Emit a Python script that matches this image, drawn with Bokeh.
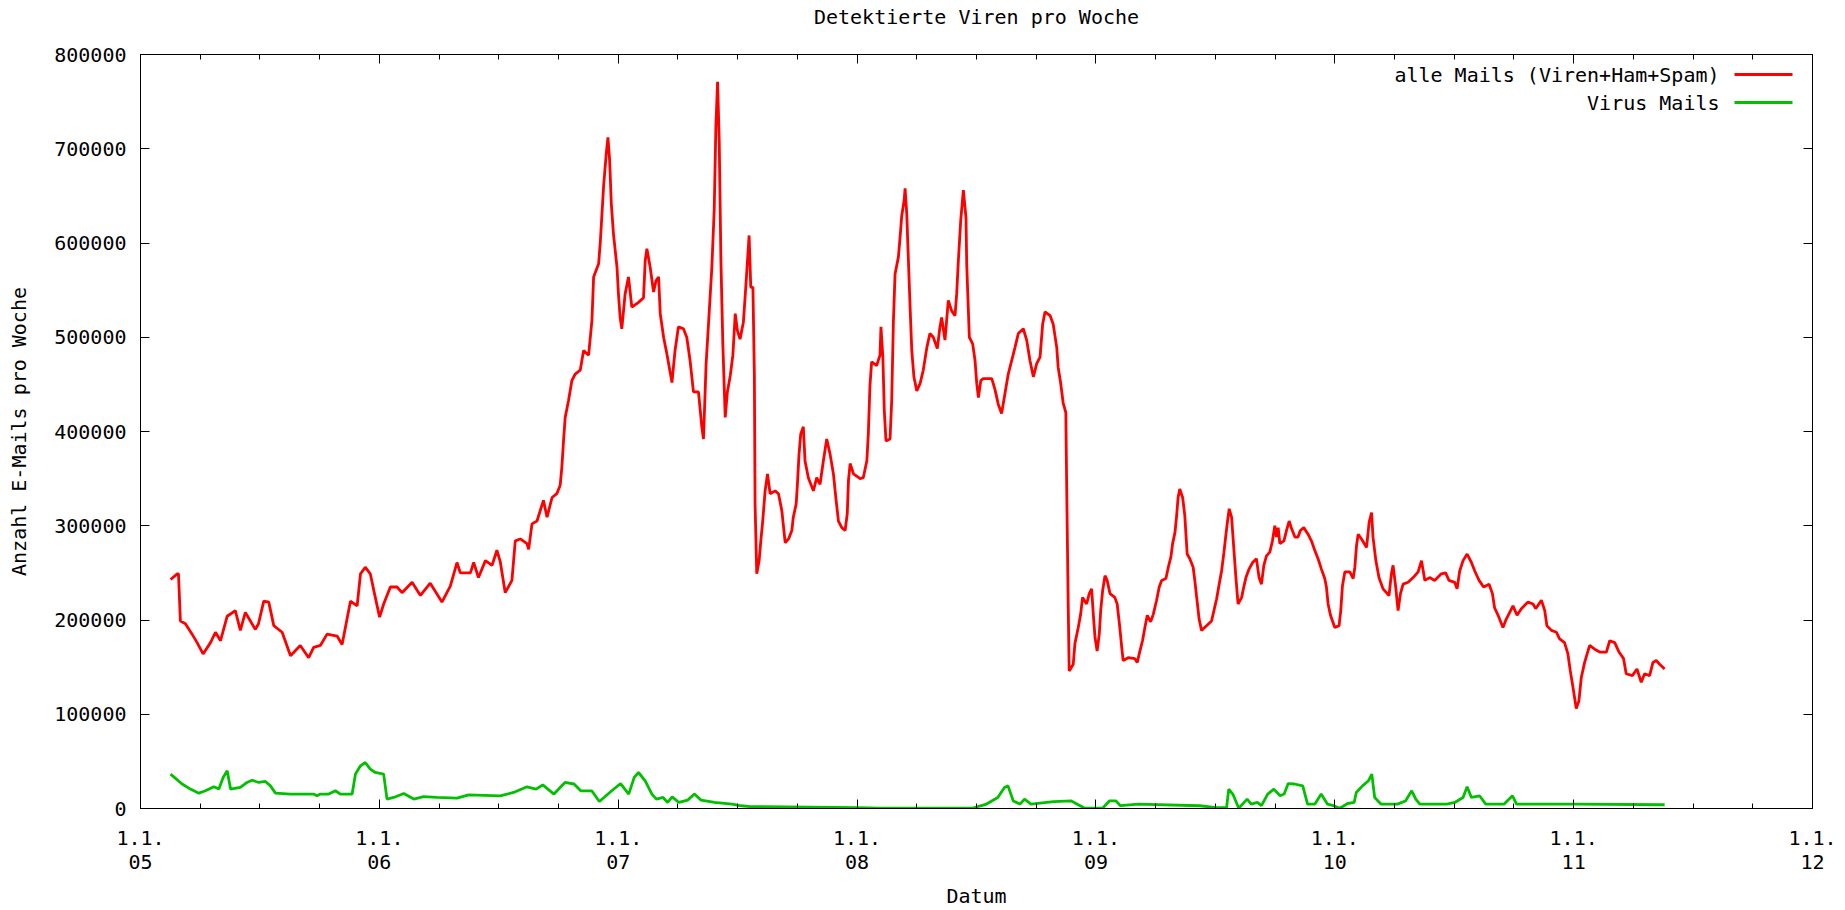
from bokeh.plotting import figure
from bokeh.models import (Range1d, FixedTicker, LinearAxis, Title, Label, Arrow,
                          BasicTickFormatter, CustomLabelingPolicy)
from bokeh.embed import file_html
from bokeh.resources import INLINE

# ---------------- data ----------------
title_text = "Detektierte Viren pro Woche"
year_ticks = [2005, 2006, 2007, 2008, 2009, 2010, 2011, 2012]
year_labels = ["1.1.\n05", "1.1.\n06", "1.1.\n07", "1.1.\n08",
               "1.1.\n09", "1.1.\n10", "1.1.\n11", "1.1.\n12"]
quarter_ticks = [2005.25, 2005.5, 2005.75, 2006.25, 2006.5, 2006.75,
                 2007.25, 2007.5, 2007.75, 2008.25, 2008.5, 2008.75,
                 2009.25, 2009.5, 2009.75, 2010.25, 2010.5, 2010.75,
                 2011.25, 2011.5, 2011.75]
y_ticks = [0, 100000, 200000, 300000, 400000, 500000, 600000, 700000, 800000]

# time in years since 1.1.2005, values in thousands of mails per week
alle_t = [
    0.126, 0.154, 0.159, 0.167, 0.188, 0.216, 0.237, 0.262, 0.293, 0.314,
    0.335, 0.363, 0.397, 0.418, 0.439, 0.481, 0.494, 0.516, 0.537, 0.558,
    0.593, 0.628, 0.669, 0.704, 0.725, 0.753, 0.781, 0.823, 0.844, 0.879,
    0.907, 0.921, 0.941, 0.962, 0.983, 1.001, 1.018, 1.046, 1.074, 1.095,
    1.137, 1.172, 1.213, 1.262, 1.297, 1.325, 1.339, 1.381, 1.395, 1.415,
    1.444, 1.472, 1.492, 1.506, 1.527, 1.555, 1.569, 1.590, 1.618, 1.625,
    1.639, 1.660, 1.687, 1.702, 1.723, 1.743, 1.757, 1.764, 1.771, 1.778,
    1.792, 1.806, 1.820, 1.841, 1.855, 1.876, 1.890, 1.897, 1.918, 1.925,
    1.939, 1.950, 1.957, 1.964, 1.971, 1.980, 1.995, 2.001, 2.008, 2.015,
    2.029, 2.043, 2.057, 2.085, 2.106, 2.113, 2.120, 2.134, 2.148, 2.158,
    2.169, 2.176, 2.190, 2.204, 2.225, 2.238, 2.252, 2.273, 2.287, 2.301,
    2.315, 2.336, 2.350, 2.357, 2.368, 2.378, 2.385, 2.392, 2.402, 2.409,
    2.416, 2.423, 2.430, 2.438, 2.448, 2.457, 2.469, 2.480, 2.490, 2.499,
    2.510, 2.524, 2.534, 2.548, 2.555, 2.564, 2.570, 2.573, 2.580, 2.590,
    2.597, 2.605, 2.615, 2.625, 2.636, 2.657, 2.671, 2.685, 2.699, 2.713,
    2.727, 2.733, 2.745, 2.750, 2.757, 2.764, 2.775, 2.782, 2.796, 2.817,
    2.831, 2.845, 2.859, 2.873, 2.887, 2.901, 2.911, 2.922, 2.936, 2.950,
    2.959, 2.964, 2.971, 2.985, 3.013, 3.026, 3.041, 3.047, 3.054, 3.061,
    3.082, 3.096, 3.100, 3.108, 3.114, 3.121, 3.138, 3.145, 3.152, 3.159,
    3.173, 3.180, 3.187, 3.197, 3.201, 3.208, 3.215, 3.222, 3.229, 3.238,
    3.250, 3.264, 3.277, 3.292, 3.305, 3.319, 3.336, 3.347, 3.354, 3.368,
    3.382, 3.396, 3.410, 3.417, 3.424, 3.434, 3.445, 3.456, 3.459, 3.466,
    3.470, 3.484, 3.494, 3.501, 3.508, 3.518, 3.528, 3.564, 3.577, 3.591,
    3.605, 3.619, 3.633, 3.647, 3.661, 3.675, 3.696, 3.710, 3.724, 3.738,
    3.752, 3.766, 3.777, 3.787, 3.808, 3.821, 3.836, 3.842, 3.852, 3.863,
    3.874, 3.877, 3.884, 3.888, 3.905, 3.912, 3.926, 3.936, 3.944, 3.961,
    3.972, 3.982, 3.989, 3.996, 4.005, 4.014, 4.020, 4.028, 4.038, 4.047,
    4.059, 4.079, 4.089, 4.100, 4.108, 4.114, 4.135, 4.163, 4.173, 4.184,
    4.195, 4.205, 4.215, 4.229, 4.240, 4.254, 4.265, 4.275, 4.293, 4.303,
    4.314, 4.321, 4.331, 4.338, 4.344, 4.351, 4.363, 4.372, 4.382, 4.393,
    4.407, 4.414, 4.421, 4.432, 4.442, 4.463, 4.484, 4.494, 4.505, 4.516,
    4.526, 4.536, 4.543, 4.551, 4.558, 4.568, 4.575, 4.586, 4.595, 4.610,
    4.619, 4.628, 4.641, 4.656, 4.672, 4.683, 4.693, 4.703, 4.714, 4.728,
    4.739, 4.749, 4.756, 4.763, 4.770, 4.787, 4.798, 4.809, 4.819, 4.833,
    4.846, 4.856, 4.870, 4.888, 4.902, 4.916, 4.930, 4.944, 4.958, 4.965,
    4.972, 4.982, 5.000, 5.018, 5.025, 5.032, 5.042, 5.063, 5.077, 5.084,
    5.091, 5.098, 5.112, 5.133, 5.144, 5.154, 5.160, 5.172, 5.185, 5.202,
    5.227, 5.237, 5.244, 5.255, 5.265, 5.275, 5.286, 5.307, 5.328, 5.349,
    5.363, 5.377, 5.397, 5.418, 5.446, 5.464, 5.478, 5.502, 5.512, 5.523,
    5.537, 5.554, 5.572, 5.586, 5.604, 5.623, 5.646, 5.660, 5.669, 5.687,
    5.704, 5.718, 5.746, 5.763, 5.781, 5.809, 5.830, 5.841, 5.865, 5.879,
    5.888, 5.907, 5.928, 5.941, 5.962, 5.976, 5.986, 5.997, 6.011, 6.022,
    6.032, 6.046, 6.067, 6.088, 6.109, 6.137, 6.151, 6.172, 6.190, 6.209,
    6.220, 6.246, 6.265, 6.283, 6.297, 6.318, 6.332, 6.346, 6.360, 6.381,
]
alle_k = [
    243, 249, 249, 199, 196, 185, 176, 164, 176, 187,
    178, 204, 210, 189, 208, 190, 196, 220, 219, 194,
    187, 162, 173, 160, 171, 173, 185, 183, 174, 220,
    215, 249, 256, 249, 224, 203, 217, 235, 235, 229,
    240, 226, 239, 219, 236, 261, 250, 250, 261, 245,
    263, 258, 274, 262, 229, 242, 284, 286, 281, 275,
    302, 305, 327, 309, 330, 334, 343, 362, 390, 415,
    433, 454, 461, 465, 486, 481, 518, 564, 578, 601,
    661, 695, 712, 688, 642, 610, 574, 546, 521, 509,
    546, 564, 532, 537, 542, 581, 594, 574, 548, 560,
    564, 525, 500, 482, 452, 486, 511, 509, 500, 475,
    442, 442, 405, 392, 472, 514, 544, 574, 636, 725,
    771, 707, 581, 493, 415, 442, 459, 481, 525, 507,
    498, 516, 553, 608, 553, 553, 461, 323, 249, 263,
    284, 305, 337, 355, 334, 337, 334, 316, 282, 286,
    295, 309, 323, 343, 376, 397, 405, 369, 351, 337,
    351, 344, 369, 392, 376, 355, 330, 305, 298, 295,
    313, 348, 366, 355, 350, 351, 369, 397, 449, 474,
    470, 481, 511, 479, 422, 390, 392, 433, 516, 567,
    585, 606, 629, 645, 658, 631, 581, 532, 486, 458,
    443, 451, 465, 489, 504, 500, 488, 511, 521, 497,
    539, 528, 523, 546, 581, 624, 656, 627, 578, 528,
    500, 493, 475, 451, 436, 454, 456, 456, 445, 429,
    419, 440, 461, 475, 489, 504, 509, 497, 475, 458,
    472, 479, 514, 527, 523, 514, 489, 468, 452, 430,
    420, 353, 215, 146, 153, 175, 192, 206, 224, 217,
    228, 233, 206, 182, 167, 185, 210, 231, 247, 242,
    228, 224, 217, 192, 171, 157, 160, 159, 155, 167,
    178, 192, 205, 198, 206, 221, 235, 242, 244, 256,
    267, 281, 293, 311, 330, 339, 330, 311, 270, 265,
    256, 242, 226, 201, 189, 194, 199, 210, 222, 238,
    252, 272, 288, 305, 318, 309, 284, 245, 217, 224,
    235, 245, 254, 261, 265, 245, 238, 258, 268, 272,
    284, 300, 288, 298, 281, 284, 295, 305, 297, 288,
    288, 295, 298, 291, 284, 274, 265, 254, 244, 235,
    217, 205, 192, 194, 210, 236, 251, 251, 244, 256,
    279, 291, 286, 277, 304, 314, 288, 263, 245, 233,
    226, 249, 258, 235, 210, 228, 238, 240, 245, 251,
    263, 242, 245, 242, 249, 250, 242, 240, 233, 252,
    263, 270, 261, 252, 242, 235, 238, 228, 213, 203,
    192, 201, 215, 205, 212, 219, 217, 212, 221, 210,
    194, 189, 187, 180, 176, 164, 146, 129, 106, 114,
    139, 155, 173, 169, 166, 166, 178, 176, 166, 159,
    143, 141, 148, 134, 143, 141, 155, 157, 153, 148,
]

virus_t = [
    0.126, 0.174, 0.209, 0.244, 0.272, 0.307, 0.328, 0.346, 0.363, 0.377,
    0.418, 0.446, 0.467, 0.495, 0.523, 0.544, 0.565, 0.628, 0.724, 0.739,
    0.753, 0.788, 0.816, 0.837, 0.886, 0.900, 0.921, 0.941, 0.962, 0.983,
    1.018, 1.032, 1.060, 1.102, 1.144, 1.185, 1.241, 1.325, 1.374, 1.506,
    1.562, 1.618, 1.656, 1.684, 1.731, 1.777, 1.815, 1.843, 1.889, 1.921,
    1.973, 2.010, 2.044, 2.067, 2.085, 2.113, 2.141, 2.160, 2.188, 2.207,
    2.226, 2.254, 2.291, 2.319, 2.347, 2.403, 2.477, 2.515, 2.552, 3.000,
    3.094, 3.372, 3.485, 3.542, 3.589, 3.617, 3.632, 3.654, 3.682, 3.701,
    3.728, 3.823, 3.897, 3.953, 4.028, 4.056, 4.084, 4.103, 4.177, 4.435,
    4.504, 4.547, 4.556, 4.573, 4.598, 4.633, 4.650, 4.676, 4.693, 4.719,
    4.745, 4.771, 4.788, 4.805, 4.831, 4.866, 4.886, 4.917, 4.943, 4.969,
    4.995, 5.021, 5.054, 5.081, 5.090, 5.116, 5.141, 5.155, 5.167, 5.193,
    5.262, 5.296, 5.322, 5.339, 5.356, 5.469, 5.502, 5.537, 5.554, 5.572,
    5.606, 5.632, 5.709, 5.744, 5.761, 6.019, 6.381,
]
virus_k = [
    36.5, 26, 20.6, 16.3, 18.8, 23, 20.6, 33, 40, 20.6,
    22.3, 27.6, 30, 27.6, 28.7, 24, 16.3, 15.3, 15.3, 13.5,
    15.3, 15.3, 18.8, 15.3, 15.3, 36.5, 45.3, 48.8, 41.8, 38.2,
    36.5, 10, 11.7, 15.9, 10, 12.7, 11.7, 11, 14.5, 13.5,
    17, 23, 20.6, 25, 15.3, 27.6, 26, 18.8, 18.8, 7.4,
    18.8, 26.5, 15.3, 33, 38.2, 29.4, 15.3, 10, 11.7, 6.4,
    12.4, 6.4, 8.9, 15.3, 8.9, 6.4, 4.7, 2.9, 2, 1,
    0.3, 0.5, 0.5, 4.7, 11.7, 22.3, 24, 8, 4.7, 10,
    4.7, 7.4, 8, 0.3, 0.3, 8, 8, 3, 4.7, 2.9,
    1, 1, 20.6, 15.3, 0.3, 10, 4.7, 6.4, 3, 15.3,
    20.6, 13.5, 15.3, 26.5, 26, 24, 4.7, 4.7, 15.3, 4.7,
    3, 0.3, 5.3, 6.4, 17, 24, 29.4, 36.5, 11.7, 4.7,
    4.7, 8, 18.8, 10, 4.7, 4.7, 6.4, 11.7, 23, 11.7,
    13.5, 4.7, 4.7, 13.5, 4.7, 4.7, 4,
]

series_names = ["alle Mails (Viren+Ham+Spam)", "Virus Mails"]
series_colors = ["#ff0000", "#00c000"]

assert len(alle_t) == len(alle_k), (len(alle_t), len(alle_k))
assert len(virus_t) == len(virus_k), (len(virus_t), len(virus_k))

alle_x = [2005 + t for t in alle_t]
alle_y = [v * 1000 for v in alle_k]
virus_x = [2005 + t for t in virus_t]
virus_y = [v * 1000 for v in virus_k]

# ---------------- figure ----------------
FONT = "DejaVu Sans Mono"
FS = "20px"
LW = 2.8

p = figure(width=1845, height=910,
           x_range=Range1d(2005, 2012), y_range=Range1d(0, 800000),
           title=None, toolbar_location=None, output_backend="svg",
           min_border_left=140, min_border_right=33,
           min_border_top=54, min_border_bottom=102,
           background_fill_color="white", border_fill_color="white")
p.grid.visible = False
p.outline_line_color = "black"
p.outline_line_width = 1

xticker = FixedTicker(ticks=year_ticks, minor_ticks=quarter_ticks)
yticker = FixedTicker(ticks=y_ticks, minor_ticks=[])


def style_axis(ax):
    ax.axis_line_color = "black"
    ax.axis_line_width = 1
    ax.major_tick_line_color = "black"
    ax.minor_tick_line_color = "black"
    ax.major_tick_in = 9
    ax.major_tick_out = 0
    ax.minor_tick_in = 5
    ax.minor_tick_out = 0
    ax.major_label_text_font = FONT
    ax.major_label_text_font_size = FS
    ax.major_label_text_color = "black"
    ax.axis_label_text_font = FONT
    ax.axis_label_text_font_size = FS
    ax.axis_label_text_font_style = "normal"
    ax.axis_label_text_color = "black"


xa = p.xaxis[0]
xa.ticker = xticker
xa.major_label_overrides = {t: lab for t, lab in zip(year_ticks, year_labels)}
style_axis(xa)
xa.major_label_text_line_height = 1.0
xa.major_label_standoff = 17
xa.axis_label = "Datum"
xa.axis_label_standoff = 7

ya = p.yaxis[0]
ya.ticker = yticker
ya.formatter = BasicTickFormatter(use_scientific=False)
style_axis(ya)
ya.major_label_standoff = 14
ya.axis_label = "Anzahl E-Mails pro Woche"
ya.axis_label_standoff = 20

# mirrored tick marks on top and right (gnuplot style), without labels
no_labels = CustomLabelingPolicy(code="return []")

top = LinearAxis(ticker=xticker)
style_axis(top)
top.major_label_policy = no_labels
top.major_label_text_font_size = "0px"
top.major_label_standoff = 0
p.add_layout(top, "above")

right = LinearAxis(ticker=yticker)
style_axis(right)
right.major_label_policy = no_labels
right.major_label_text_font_size = "0px"
right.major_label_standoff = 0
p.add_layout(right, "right")

# invisible spacer between the frame and the title (lifts the title up)
spacer = LinearAxis(ticker=xticker)
spacer.axis_line_color = None
spacer.major_tick_line_color = None
spacer.minor_tick_line_color = None
spacer.major_tick_in = 0
spacer.major_tick_out = 24
spacer.minor_tick_in = 0
spacer.minor_tick_out = 0
spacer.major_label_policy = no_labels
spacer.major_label_text_font_size = "0px"
spacer.major_label_standoff = 0
p.add_layout(spacer, "above")

title = Title(text=title_text, align="center",
              text_font=FONT, text_font_size=FS, text_font_style="normal",
              text_color="black", standoff=4)
p.add_layout(title, "above")

p.line(alle_x, alle_y, line_color=series_colors[0], line_width=LW)
p.line(virus_x, virus_y, line_color=series_colors[1], line_width=LW)

# gnuplot-style key: text right-aligned, sample line to its right
for i, (name, col) in enumerate(zip(series_names, series_colors)):
    ypos = 734 - 28 * i
    p.add_layout(Label(x=1579, y=ypos, x_units="screen", y_units="screen",
                       text=name, text_align="right", text_baseline="middle",
                       text_font=FONT, text_font_size=FS, text_color="black"))
    p.add_layout(Arrow(x_start=1594, y_start=ypos, x_end=1652, y_end=ypos,
                       start_units="screen", end_units="screen",
                       start=None, end=None, line_color=col, line_width=LW))

open("out.html", "w").write(file_html(p, INLINE))
